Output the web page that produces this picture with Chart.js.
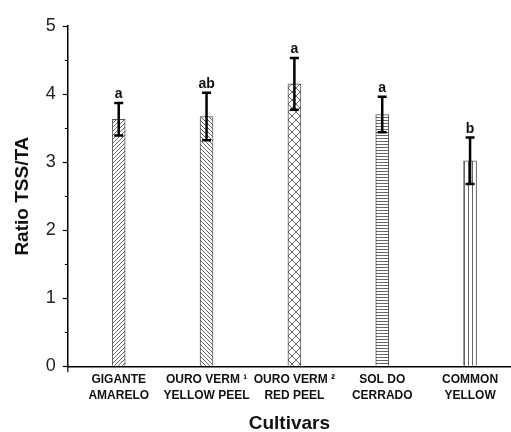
<!DOCTYPE html>
<html lang="en">
<head>
    <meta charset="UTF-8">
    <title>Ratio TSS/TA by cultivar</title>
    <script src="https://cdn.jsdelivr.net/npm/chart.js"></script>
    <style>
        html, body { margin: 0; padding: 0; background: #fff; overflow: hidden; }
        #wrap { width: 511px; height: 432px; }
    </style>
</head>
<body>
    <div id="wrap"><canvas id="ratioChart" width="511" height="432"></canvas></div>

    <script>
        const cultivars = [
            ["GIGANTE", "AMARELO"],
            ["OURO VERM \u00b9", "YELLOW PEEL"],
            ["OURO VERM \u00b2", "RED PEEL"],
            ["SOL DO", "CERRADO"],
            ["COMMON", "YELLOW"]
        ];
        const ratioMeans = [3.63, 3.67, 4.15, 3.70, 3.02];
        const ratioErrors = [0.24, 0.35, 0.38, 0.26, 0.34];
        const groupLetters = ["a", "ab", "a", "a", "b"];
        const yTicks = [0, 1, 2, 3, 4, 5];

        // hatch fills, one per cultivar
        function makePattern(kind) {
            const c = document.createElement("canvas");
            const size = kind === "cross" ? 8 : (kind === "vert" ? 4.5 : (kind === "horiz" ? 3 : 4));
            c.width = size; c.height = size;
            const g = c.getContext("2d");
            g.fillStyle = "#fff";
            g.fillRect(0, 0, size, size);
            g.strokeStyle = "#555";
            g.lineWidth = 0.9;
            g.beginPath();
            if (kind === "fwd" || kind === "cross") {
                g.moveTo(-1, size + 1); g.lineTo(size + 1, -1);
                g.moveTo(-1, 1); g.lineTo(1, -1);
                g.moveTo(size - 1, size + 1); g.lineTo(size + 1, size - 1);
            }
            if (kind === "back" || kind === "cross") {
                g.moveTo(-1, -1); g.lineTo(size + 1, size + 1);
                g.moveTo(size - 1, -1); g.lineTo(size + 1, 1);
                g.moveTo(-1, size - 1); g.lineTo(1, size + 1);
            }
            if (kind === "horiz") { g.moveTo(0, 0.5); g.lineTo(size, 0.5); }
            if (kind === "vert") { g.moveTo(0.5, 0); g.lineTo(0.5, size); }
            g.stroke();
            return g.createPattern(c, "repeat");
        }
        const fills = ["fwd", "back", "cross", "horiz", "vert"].map(makePattern);

        const errorBars = {
            id: "errorBars",
            afterDatasetsDraw(chart) {
                const { ctx, scales: { x, y } } = chart;
                ctx.save();
                // minor ticks halfway between the labelled ones
                ctx.strokeStyle = "#000";
                ctx.lineWidth = 1.2;
                ctx.beginPath();
                yTicks.slice(1).forEach(v => {
                    const py = Math.round(y.getPixelForValue(v - 0.5)) + 0.5;
                    ctx.moveTo(x.left - 3, py); ctx.lineTo(x.left, py);
                });
                // little stub of the y axis under the x axis
                ctx.moveTo(x.left, y.bottom); ctx.lineTo(x.left, y.bottom + 6);
                ctx.stroke();

                ctx.lineWidth = 2.5;
                ctx.fillStyle = "#111";
                ctx.font = "bold 14px 'Liberation Sans', Arial, sans-serif";
                ctx.textAlign = "center";
                ctx.textBaseline = "alphabetic";
                ratioMeans.forEach((m, i) => {
                    const px = x.getPixelForValue(i + 1);
                    const top = y.getPixelForValue(m + ratioErrors[i]);
                    const bot = y.getPixelForValue(m - ratioErrors[i]);
                    ctx.beginPath();
                    ctx.moveTo(px, top); ctx.lineTo(px, bot);
                    ctx.moveTo(px - 4.5, top); ctx.lineTo(px + 4.5, top);
                    ctx.moveTo(px - 4.5, bot); ctx.lineTo(px + 4.5, bot);
                    ctx.stroke();
                    ctx.fillText(groupLetters[i], px, top - 5);
                });
                ctx.restore();
            }
        };

        new Chart(document.getElementById("ratioChart"), {
            type: "bar",
            data: {
                datasets: [{
                    data: ratioMeans.map((v, i) => ({ x: i + 1, y: v })),
                    backgroundColor: fills,
                    borderColor: "#555",
                    borderWidth: 1,
                    barThickness: 13
                }]
            },
            options: {
                responsive: false,
                animation: false,
                layout: { padding: { top: 26, right: 0, bottom: -3, left: 11 } },
                plugins: { legend: { display: false }, tooltip: { enabled: false } },
                scales: {
                    x: {
                        type: "linear",
                        offset: false,
                        min: 0.4205,
                        max: 5.466,
                        afterBuildTicks: s => { s.ticks = cultivars.map((c, i) => ({ value: i + 1 })); },
                        ticks: {
                            autoSkip: false,
                            maxRotation: 0,
                            padding: 5,
                            color: "#111",
                            font: { family: "'Liberation Sans', Arial, sans-serif", size: 12, weight: "bold", lineHeight: 1.33 },
                            callback: v => cultivars[v - 1]
                        },
                        grid: { offset: false, drawOnChartArea: false, drawTicks: false },
                        border: { display: true, color: "#000", width: 1.5 },
                        title: {
                            display: true,
                            text: "Cultivars",
                            color: "#111",
                            padding: { top: 4, bottom: 0 },
                            font: { family: "'Liberation Sans', Arial, sans-serif", size: 19, weight: "bold" }
                        }
                    },
                    y: {
                        min: 0,
                        max: 5,
                        afterBuildTicks: s => { s.ticks = yTicks.map(v => ({ value: v })); },
                        ticks: {
                            padding: 7,
                            color: "#222",
                            font: { family: "'Liberation Sans', Arial, sans-serif", size: 18 }
                        },
                        grid: { drawOnChartArea: false, tickLength: 5, color: "#000", tickWidth: 1.2 },
                        border: { display: true, color: "#000", width: 1.5 },
                        title: {
                            display: true,
                            text: "Ratio TSS/TA",
                            color: "#111",
                            padding: { top: 0, bottom: 5 },
                            font: { family: "'Liberation Sans', Arial, sans-serif", size: 19, weight: "bold" }
                        }
                    }
                }
            },
            plugins: [errorBars]
        });
    </script>
</body>
</html>
